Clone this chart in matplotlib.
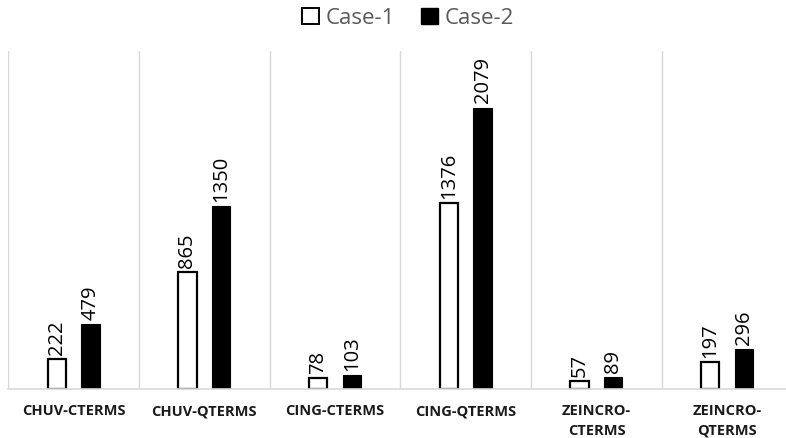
import matplotlib.pyplot as plt
from matplotlib.patches import Patch
import numpy as np

categories = ['CHUV-CTERMS', 'CHUV-QTERMS', 'CING-CTERMS', 'CING-QTERMS',
              'ZEINCRO-\nCTERMS', 'ZEINCRO-\nQTERMS']
case1 = [222, 865, 78, 1376, 57, 197]
case2 = [479, 1350, 103, 2079, 89, 296]

plt.rcParams['font.family'] = ['Open Sans', 'DejaVu Sans']

fig = plt.figure(figsize=(7.86, 4.38), dpi=100)
ax = fig.add_axes([8.3 / 786, 49 / 438, 784.2 / 786, 338.4 / 438])

x = np.arange(len(categories))
w = 0.14
off = 0.129

b1 = ax.bar(x - off, case1, w, color='white', edgecolor='black', linewidth=1.6, zorder=3)
b2 = ax.bar(x + off, case2, w, color='black', edgecolor='black', linewidth=0.8, zorder=3)

for bars, vals in ((b1, case1), (b2, case2)):
    for rect, v in zip(bars, vals):
        ax.annotate(str(v), (rect.get_x() + rect.get_width() / 2, v),
                    xytext=(0, 3), textcoords='offset points',
                    rotation=90, ha='center', va='bottom',
                    fontsize=14.5, color='black')

ax.set_xlim(-0.5, len(categories) - 0.5)
ax.set_ylim(0, 2500)

# category separators
for b in np.arange(-0.5, len(categories), 1):
    ax.axvline(b, color='#d9d9d9', linewidth=1, zorder=1)

ax.set_xticks(x)
ax.set_xticklabels(categories, fontsize=10.5, fontweight='bold', color='#1a1a1a',
                   linespacing=1.5)
ax.tick_params(axis='x', length=0, pad=11)
ax.set_yticks([])
for s in ['top', 'right', 'left']:
    ax.spines[s].set_visible(False)
ax.spines['bottom'].set_color('#d9d9d9')
ax.spines['bottom'].set_linewidth(1.2)
ax.spines['bottom'].set_zorder(4)

handles = [Patch(facecolor='white', edgecolor='black', linewidth=1.4, label='Case-1'),
           Patch(facecolor='black', edgecolor='black', label='Case-2')]
fig.legend(handles=handles, loc='center', bbox_to_anchor=(408 / 786, 1 - 18 / 438),
           ncol=2, frameon=False, fontsize=16, labelcolor='#595959',
           handlelength=0.75, handleheight=0.75, handletextpad=0.3, columnspacing=1.2)

fig.savefig('out.png', dpi=100)
